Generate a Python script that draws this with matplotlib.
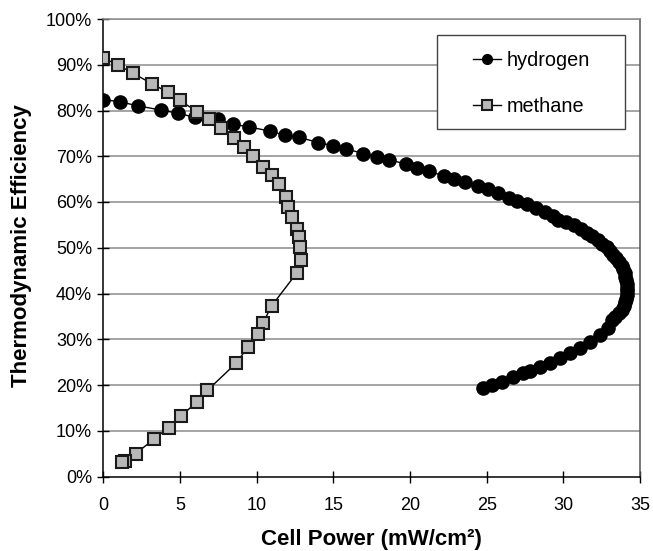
import matplotlib
matplotlib.use("Agg")
import matplotlib.pyplot as plt
from matplotlib.ticker import FuncFormatter
from matplotlib.patches import Rectangle

plt.rcParams['font.family'] = ['Liberation Sans', 'DejaVu Sans']

# Hydrogen: cell power (mW/cm2) and thermodynamic efficiency (%)
h2_power = [0.0, 1.09, 2.28, 3.76, 4.87, 5.98, 7.46, 8.48, 9.52, 10.87, 11.85, 12.79, 14.03, 15.0,
            15.83, 16.96, 17.87, 18.66, 19.75, 20.48, 21.23, 22.22, 22.88, 23.6, 24.46, 25.11, 25.77,
            26.48, 27.0, 27.62, 28.23, 28.81, 29.32, 29.68,
            30.2, 30.7, 31.15, 31.55, 31.9, 32.25, 32.55, 32.85, 33.05, 33.25, 33.45, 33.65, 33.8,
            33.9, 34.0, 34.05, 34.1, 34.15, 34.15, 34.15, 34.15, 34.1, 34.05, 33.95, 33.8, 33.6,
            33.4, 33.2,
            32.94, 32.4, 31.75, 31.09, 30.44, 29.79, 29.14, 28.49, 27.83, 27.4, 26.75, 25.99, 25.34, 24.79]
h2_eff = [82.4, 81.9, 81.0, 80.1, 79.4, 78.5, 78.1, 77.0, 76.4, 75.5, 74.6, 74.1, 73.0, 72.3,
          71.6, 70.6, 69.9, 69.2, 68.3, 67.5, 66.7, 65.7, 65.0, 64.3, 63.5, 62.8, 62.0,
          60.9, 60.3, 59.6, 58.6, 57.8, 56.9, 56.1,
          55.6, 54.9, 54.1, 53.3, 52.5, 51.7, 50.9, 50.1, 49.3, 48.5, 47.7, 46.9, 46.1,
          45.3, 44.5, 43.7, 42.9, 42.1, 41.3, 40.5, 39.7, 38.9, 38.1, 37.3, 36.5, 35.7,
          34.9, 34.1,
          32.4, 30.9, 29.5, 28.0, 26.9, 25.8, 24.9, 24.0, 23.1, 22.6, 21.8, 20.7, 20.0, 19.3]

# Methane
ch4_power = [0.0, 0.98, 1.96, 3.2, 4.2, 5.0, 6.13, 6.9, 7.66, 8.55, 9.18, 9.78, 10.44, 10.99,
             11.44, 11.9, 12.07, 12.29, 12.62, 12.77, 12.83, 12.88, 12.62, 10.98, 10.4, 10.07,
             9.44, 8.64, 6.78, 6.09, 5.07, 4.26, 3.28, 2.11, 1.4, 1.2]
ch4_eff = [91.5, 89.9, 88.1, 85.8, 84.0, 82.2, 79.7, 78.1, 76.2, 73.9, 72.0, 70.1, 67.7, 65.8,
           63.9, 61.2, 59.0, 56.7, 54.0, 52.4, 50.1, 47.3, 44.5, 37.3, 33.5, 31.1,
           28.3, 24.7, 18.8, 16.3, 13.2, 10.7, 8.1, 5.0, 3.4, 3.2]

x_ticks = [0, 5, 10, 15, 20, 25, 30, 35]
y_ticks = [0, 10, 20, 30, 40, 50, 60, 70, 80, 90, 100]

fig = plt.figure(figsize=(6.53, 5.51), dpi=100)
ax = fig.add_axes([103.3 / 653, 1 - 476.5 / 551, (640 - 103.3) / 653, (476.5 - 19) / 551])

for y in y_ticks[1:]:
    ax.axhline(y, color='#8c8c8c', lw=1.1, zorder=0)

ax.plot(h2_power, h2_eff, color='black', lw=1.0, marker='o', markersize=9.5,
        markerfacecolor='black', markeredgecolor='black', label='hydrogen', zorder=3)
ax.plot(ch4_power, ch4_eff, color='black', lw=1.0, marker='s', markersize=8.2,
        markerfacecolor='#b8b8b8', markeredgecolor='#1a1a1a', markeredgewidth=1.5,
        label='methane', zorder=4)

ax.set_xlim(0, 35)
ax.set_ylim(0, 100)
ax.set_xticks(x_ticks)
ax.set_yticks(y_ticks)
ax.yaxis.set_major_formatter(FuncFormatter(lambda v, p: f"{int(v)}%"))
ax.tick_params(axis='both', direction='inout', length=8, width=1, labelsize=13, colors='black')
ax.tick_params(axis='x', pad=11)
ax.tick_params(axis='y', pad=4)

for side in ['left', 'bottom']:
    ax.spines[side].set_color('black')
    ax.spines[side].set_linewidth(1.1)
ax.spines['right'].set_color('#555555')
ax.spines['right'].set_linewidth(1.1)
ax.spines['top'].set_color('#8c8c8c')
ax.spines['top'].set_linewidth(1.1)

ax.set_xlabel('Cell Power (mW/cm²)', fontsize=16, fontweight='bold', va='center')
ax.xaxis.set_label_coords(0.5, (476.5 - 539) / 457.5)
ax.set_ylabel('Thermodynamic Efficiency', fontsize=16, fontweight='bold', va='center')
ax.yaxis.set_label_coords((22 - 103.3) / 536.7, 0.505)

# legend frame
ax.add_patch(Rectangle((0.6218, 0.7589), 0.9720 - 0.6218, 0.965 - 0.7589,
                       transform=ax.transAxes, facecolor='white', edgecolor='#444444',
                       lw=1.0, zorder=5))
leg = ax.legend(loc='center left', bbox_to_anchor=((473 - 103.3) / 536.7, (476.5 - 83.4) / 457.5),
                fontsize=14.3, frameon=False, handlelength=1.4, labelspacing=1.35,
                borderpad=0, handletextpad=0.3, borderaxespad=0)
leg.set_zorder(6)
for h in leg.legend_handles:
    h.set_markersize(7)

fig.savefig('out.png', dpi=100)
